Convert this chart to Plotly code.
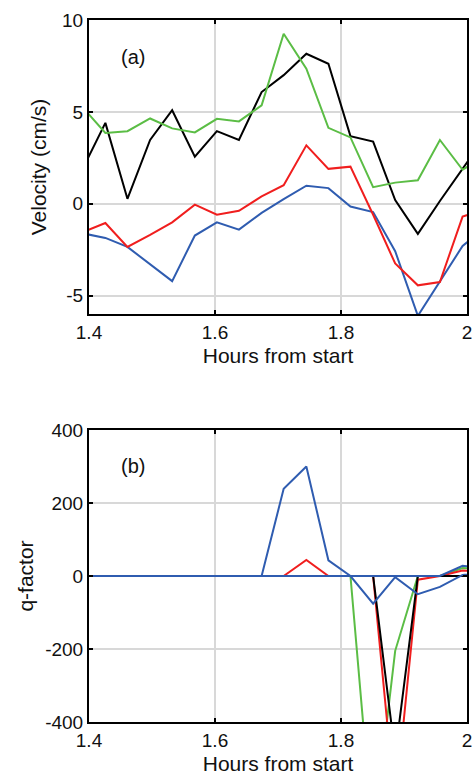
import plotly.graph_objects as go

# ---- data ----
hours = [1.390, 1.426, 1.461, 1.497, 1.532, 1.568, 1.603, 1.638, 1.674, 1.709,
         1.745, 1.780, 1.815, 1.851, 1.886, 1.922, 1.957, 1.993, 2.028]

vel_black = [1.9, 4.4, 0.27, 3.47, 5.09, 2.56, 3.95, 3.47, 6.08, 7.0,
             8.16, 7.62, 3.68, 3.38, 0.2, -1.64, 0.15, 1.93, 3.6]
vel_green = [5.24, 3.85, 3.95, 4.64, 4.1, 3.88, 4.62, 4.48, 5.36, 9.25,
             7.35, 4.13, 3.61, 0.9, 1.15, 1.28, 3.47, 1.85, 2.6]
vel_red = [-1.55, -1.05, -2.35, -1.7, -1.01, -0.05, -0.6, -0.38, 0.4, 1.01,
           3.18, 1.9, 2.02, -0.6, -3.25, -4.44, -4.26, -0.7, -0.3]
vel_blue = [-1.61, -1.86, -2.35, -3.3, -4.21, -1.73, -1.01, -1.41, -0.5, 0.25,
            0.98, 0.85, -0.15, -0.45, -2.58, -6.1, -4.26, -2.3, -1.3]

q_black = [0, 0, 0, 0, 0, 0, 0, 0, 0, 0, 0, 0, 0, 0, -490, 0, 0, 0, 0]
q_green = [0, 0, 0, 0, 0, 0, 0, 0, 0, 0, 0, 0, 0, -720, -205, 0, 0, 22, 18]
q_red = [0, 0, 0, 0, 0, 0, 0, 0, 0, 0, 44, 0, 0, 0, -630, -10, 0, 15, 12]
q_blue = [0, 0, 0, 0, 0, 0, 0, 0, 0, 239, 300, 43, 0, -76, -3, -50, -30, 3, 10]
q_blue2 = [0, 0, 0, 0, 0, 0, 0, 0, 0, 0, 0, 0, 0, 0, 0, 0, 0, 28, 22]

x_ticks = [1.4, 1.6, 1.8, 2.0]
x_ticktext = ["1.4", "1.6", "1.8", "2"]
v_ticks = [-5, 0, 5, 10]
v_ticktext = ["-5", "0", "5", "10"]
q_ticks = [-400, -200, 0, 200, 400]
q_ticktext = ["-400", "-200", "0", "200", "400"]

BLACK = "#000000"
GREEN = "#5bbd45"
RED = "#f01e1e"
BLUE = "#2f5cb0"

fig = go.Figure()

def add(x, y, color, xa, ya, w=2):
    fig.add_trace(go.Scatter(x=x, y=y, mode="lines", xaxis=xa, yaxis=ya,
                             line=dict(color=color, width=w), showlegend=False,
                             hoverinfo="skip"))

add(hours, vel_blue, BLUE, "x", "y")
add(hours, vel_red, RED, "x", "y")
add(hours, vel_black, BLACK, "x", "y")
add(hours, vel_green, GREEN, "x", "y")

add(hours, q_green, GREEN, "x2", "y2")
add(hours, q_red, RED, "x2", "y2")
add(hours, q_black, BLACK, "x2", "y2")
add(hours, q_blue, BLUE, "x2", "y2")
add(hours, q_blue2, BLUE, "x2", "y2")

FONT = "Liberation Sans, Arial, sans-serif"
TXT = "#111111"
axis_common = dict(showline=True, linecolor="black", linewidth=2, mirror="allticks",
                   ticks="inside", ticklen=4, tickcolor="black", tickwidth=1.5,
                   showgrid=True, gridcolor="#d8d8d8", gridwidth=2, zeroline=False,
                   ticklabeloverflow="allow",
                   tickfont=dict(size=19, color=TXT, family=FONT))

L, R, T, B, H = 89, 2, 20, 54, 776
plot_h = H - T - B
top_dom = [(722 - 314) / plot_h, 1.0]
bot_dom = [0.0, (722 - 430) / plot_h]

xtitle = dict(text="Hours from start", font=dict(size=21, color=TXT, family=FONT), standoff=7)

fig.update_layout(
    width=474, height=776,
    margin=dict(l=L, r=R, t=T, b=B),
    paper_bgcolor="white", plot_bgcolor="white",
    font=dict(family=FONT, color=TXT),
    xaxis=dict(axis_common, domain=[0, 1], range=[1.4, 2.0], tickvals=x_ticks,
               ticktext=x_ticktext, anchor="y", title=xtitle),
    yaxis=dict(axis_common, domain=top_dom, range=[-6, 10], tickvals=v_ticks,
               ticktext=v_ticktext, anchor="x",
               title=dict(text="Velocity (cm/s)", font=dict(size=21, color=TXT, family=FONT), standoff=10)),
    xaxis2=dict(axis_common, domain=[0, 1], range=[1.4, 2.0], tickvals=x_ticks,
                ticktext=x_ticktext, anchor="y2", title=xtitle),
    yaxis2=dict(axis_common, domain=bot_dom, range=[-400, 400], tickvals=q_ticks,
                ticktext=q_ticktext, anchor="x2",
                title=dict(text="q-factor", font=dict(size=21, color=TXT, family=FONT), standoff=6)),
    annotations=[
        dict(text="(a)", x=1.4703, y=7.96, xref="x", yref="y", showarrow=False,
             font=dict(size=20, color=TXT, family=FONT)),
        dict(text="(b)", x=1.4703, y=301, xref="x2", yref="y2", showarrow=False,
             font=dict(size=20, color=TXT, family=FONT)),
    ],
)

fig.write_html("out.html")
